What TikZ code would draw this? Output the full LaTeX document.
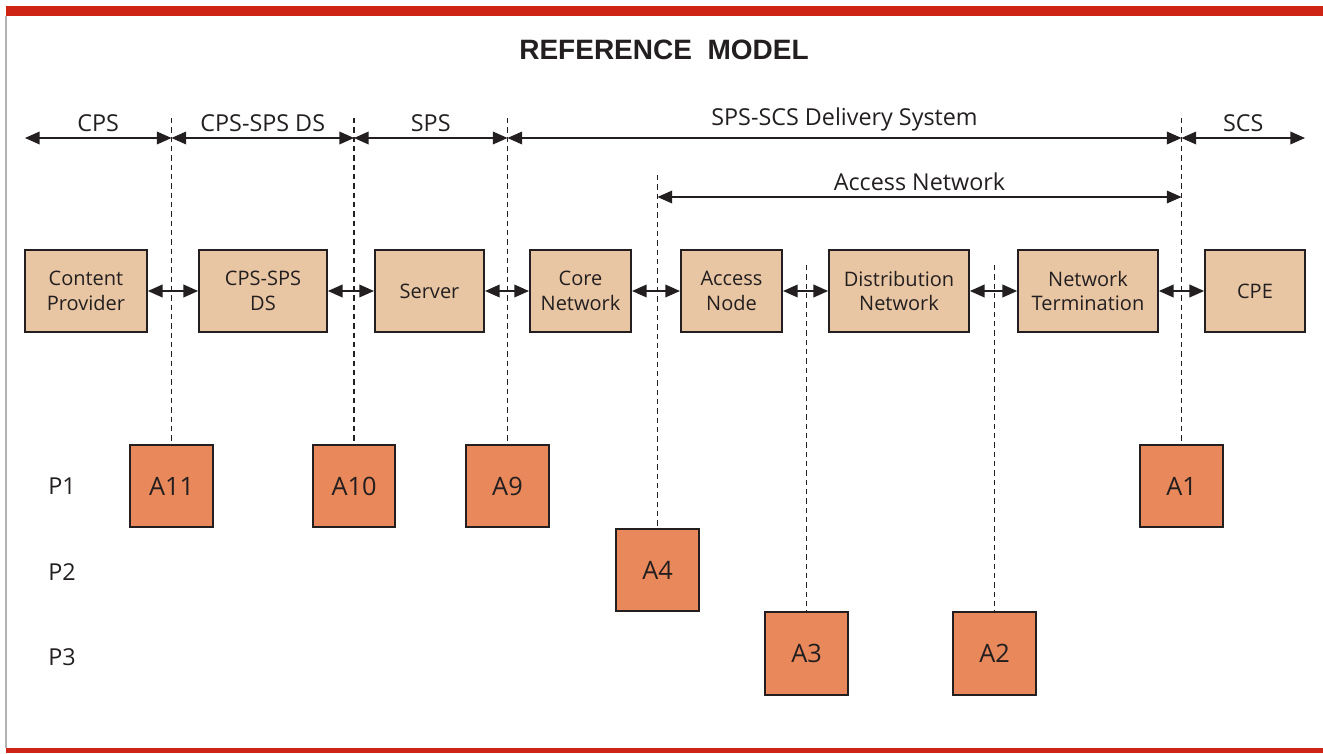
\documentclass[tikz,border=0pt]{standalone}
\usepackage{fontspec}
\setmainfont{Open Sans}
\newfontfamily\titlefont{Liberation Sans}
\usetikzlibrary{arrows.meta}
\definecolor{boxtan}{RGB}{233,198,163}
\definecolor{boxorange}{RGB}{233,136,90}
\definecolor{barred}{RGB}{205,36,22}
\definecolor{ink}{RGB}{35,31,32}
\tikzstyle{comp} = [draw=ink, line width=1.3pt, fill=boxtan, text=ink, align=center, minimum height=62pt, font=\fontsize{15}{18.5}\selectfont]
\tikzstyle{iface} = [draw=ink, line width=1.3pt, fill=boxorange, text=ink, minimum width=62pt, minimum height=62pt, font=\fontsize{19}{22}\selectfont]
\tikzstyle{biarrow} = [ink, line width=1.1pt, {Triangle[length=11pt,width=9.5pt]}-{Triangle[length=11pt,width=9.5pt]}]
\tikzstyle{split} = [ink, line width=0.9pt, dash pattern=on 4pt off 3pt]
\tikzstyle{lbl} = [text=ink, font=\fontsize{17.5}{20}\selectfont]

\begin{document}
\begin{tikzpicture}[x=0.75pt, y=-0.75pt]
                \useasboundingbox (0,0) rectangle (1323,753);
                % frame
                \fill[barred] (6,6) rectangle (1323,16);
                \fill[barred] (6,748) rectangle (1323,753);
                \draw[gray!60, line width=1.2pt] (6,16) -- (6,748);

                \node (title) [text=ink] at (664,50) {\titlefont\bfseries\fontsize{21}{24}\selectfont REFERENCE\ \ MODEL};

                % components
                \node (cp) [comp, minimum width=91.5pt] at (86,291) {Content\\Provider};
                \node (ds) [comp, minimum width=96pt] at (263,291) {CPS-SPS\\DS};
                \node (srv) [comp, minimum width=82pt] at (429.5,291) {Server};
                \node (core) [comp, minimum width=76pt] at (580.5,291) {Core\\Network};
                \node (an) [comp, minimum width=76pt] at (731.5,291) {Access\\Node};
                \node (dn) [comp, minimum width=105pt] at (899,291) {Distribution\\Network};
                \node (nt) [comp, minimum width=105pt] at (1088,291) {Network\\Termination};
                \node (cpe) [comp, minimum width=75pt] at (1255,291) {CPE};

                \draw [biarrow] (cp) -- (ds);
                \draw [biarrow] (ds) -- (srv);
                \draw [biarrow] (srv) -- (core);
                \draw [biarrow] (core) -- (an);
                \draw [biarrow] (an) -- (dn);
                \draw [biarrow] (dn) -- (nt);
                \draw [biarrow] (nt) -- (cpe);

                % interfaces
                \node (a11) [iface] at (171.5,486) {A11};
                \node (a10) [iface] at (354,486) {A10};
                \node (a9) [iface] at (507.5,486) {A9};
                \node (a1) [iface] at (1181.5,486) {A1};
                \node (a4) [iface] at (657.5,570) {A4};
                \node (a3) [iface] at (806.5,653.5) {A3};
                \node (a2) [iface] at (994.5,653.5) {A2};

                \node (p1) [lbl] at (62,486) {P1};
                \node (p2) [lbl] at (62,572) {P2};
                \node (p3) [lbl] at (62,657) {P3};

                % split lines
                \coordinate (t11) at (171.5,118);
                \coordinate (t10) at (354,118);
                \coordinate (t9) at (507.5,118);
                \coordinate (t1) at (1181.5,118);
                \coordinate (t4) at (657.5,175);
                \coordinate (t3) at (806.5,265);
                \coordinate (t2) at (994.5,265);
                \draw [split] (t11) -- (a11);
                \draw [split] (t10) -- (a10);
                \draw [split] (t9) -- (a9);
                \draw [split] (t1) -- (a1);
                \draw [split] (t4) -- (a4);
                \draw [split] (t3) -- (a3);
                \draw [split] (t2) -- (a2);

                % domains
                \coordinate (s0) at (25,138);
                \coordinate (s1) at (171.5,138);
                \coordinate (s2) at (354,138);
                \coordinate (s3) at (507.5,138);
                \coordinate (s4) at (1181.5,138);
                \coordinate (s5) at (1305,138);
                \draw [biarrow] (s0) -- node[lbl, above=1pt] {CPS} (s1);
                \draw [biarrow] (s1) -- node[lbl, above=1pt] {CPS-SPS DS} (s2);
                \draw [biarrow] (s2) -- node[lbl, above=1pt] {SPS} (s3);
                \draw [biarrow] (s3) -- node[lbl, above=1pt] {SPS-SCS Delivery System} (s4);
                \draw [biarrow] (s4) -- node[lbl, above=1pt] {SCS} (s5);

                \coordinate (n0) at (657.5,197);
                \coordinate (n1) at (1181.5,197);
                \draw [biarrow] (n0) -- node[lbl, above=1pt] {Access Network} (n1);
            \end{tikzpicture}
\end{document}
